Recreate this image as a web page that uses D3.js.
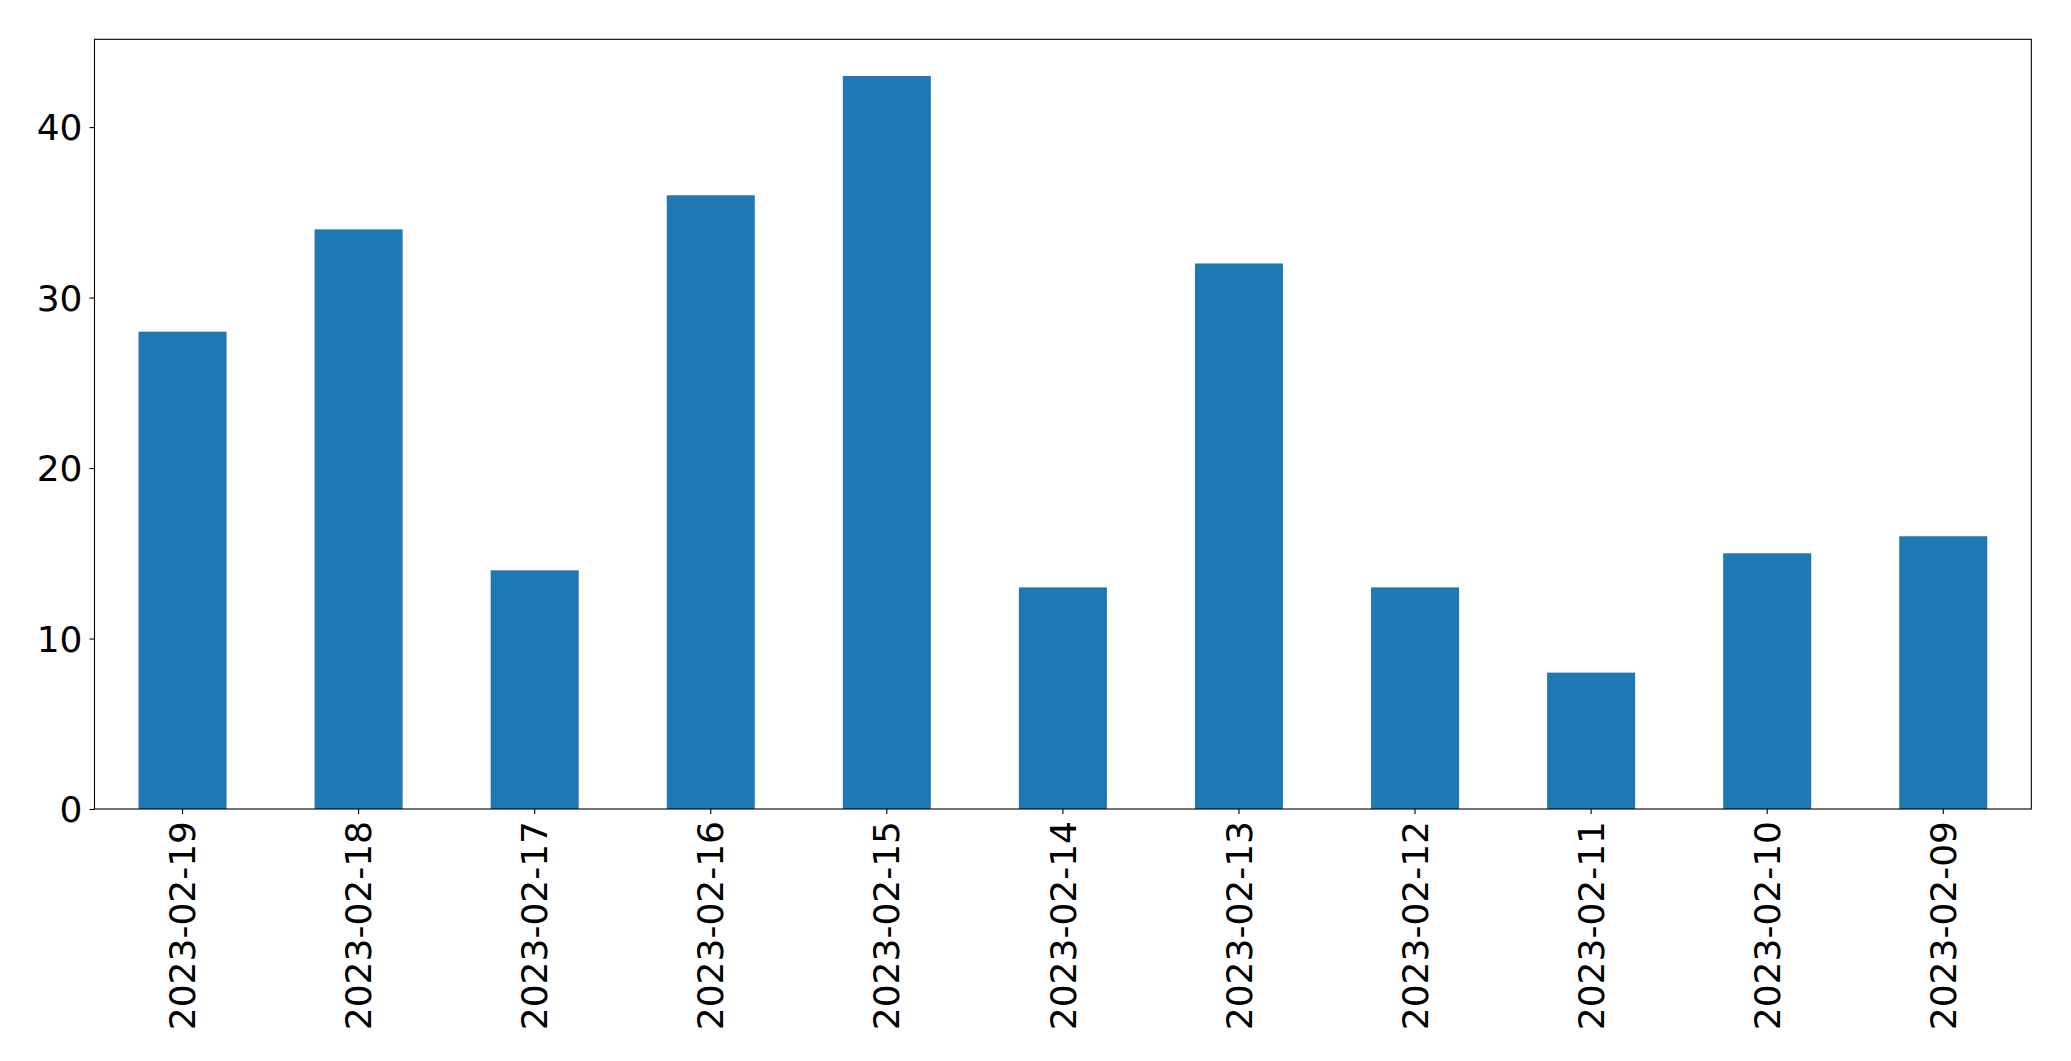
<!DOCTYPE html>
<html>
<head>
<meta charset="utf-8">
<script src="https://cdn.jsdelivr.net/npm/d3@7"></script>
<style>
html,body{margin:0;padding:0;background:#fff;}
svg{display:block;}
text{font-family:"DejaVu Sans",sans-serif;}
</style>
</head>
<body>
<script>
const categories = ["2023-02-19","2023-02-18","2023-02-17","2023-02-16","2023-02-15","2023-02-14","2023-02-13","2023-02-12","2023-02-11","2023-02-10","2023-02-09"];
const values = [28, 34, 14, 36, 43, 13, 32, 13, 8, 15, 16];
const yTicks = [0, 10, 20, 30, 40];

const W = 2071, H = 1061;
const m = {left: 94.5, right: 2031.3, top: 39.3, bottom: 809};

const svg = d3.select("body").append("svg").attr("width", W).attr("height", H);

const x = d3.scaleBand().domain(categories).range([m.left, m.right]).paddingInner(0.5).paddingOuter(0.25);
const y = d3.scaleLinear().domain([0, d3.max(values) * 1.05]).range([m.bottom, m.top]);

svg.append("g").selectAll("rect").data(values).join("rect")
  .attr("x", (d, i) => x(categories[i]))
  .attr("width", x.bandwidth())
  .attr("y", d => y(d))
  .attr("height", d => y(0) - y(d))
  .attr("fill", "#1f77b4");

const yAxis = svg.append("g").attr("transform", `translate(${m.left},0)`)
  .call(d3.axisLeft(y).tickValues(yTicks).tickSize(5).tickPadding(7).tickFormat(d3.format("d")));
yAxis.select(".domain").remove();
yAxis.selectAll("text").attr("font-size", 36).attr("fill", "#000").attr("font-family", "DejaVu Sans").attr("dy", "0.35em");
yAxis.selectAll("line").attr("stroke", "#000").attr("stroke-width", 1.1);

const xAxis = svg.append("g").attr("transform", `translate(0,${m.bottom})`)
  .call(d3.axisBottom(x).tickSize(5).tickPadding(7));
xAxis.select(".domain").remove();
xAxis.selectAll("line").attr("stroke", "#000").attr("stroke-width", 1.1);
xAxis.selectAll("text")
  .attr("font-size", 36).attr("fill", "#000").attr("font-family", "DejaVu Sans")
  .attr("transform", "rotate(-90)")
  .attr("text-anchor", "end")
  .attr("x", -12).attr("y", 0).attr("dy", "0.35em");

svg.append("rect")
  .attr("x", m.left).attr("y", m.top)
  .attr("width", m.right - m.left).attr("height", m.bottom - m.top)
  .attr("fill", "none").attr("stroke", "#000").attr("stroke-width", 1.1);
</script>
</body>
</html>
